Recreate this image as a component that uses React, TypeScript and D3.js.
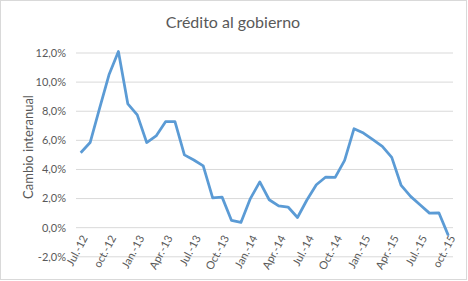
import React from "react";
import * as d3 from "d3";

const months = [
  "2012-07","2012-08","2012-09","2012-10","2012-11","2012-12",
  "2013-01","2013-02","2013-03","2013-04","2013-05","2013-06",
  "2013-07","2013-08","2013-09","2013-10","2013-11","2013-12",
  "2014-01","2014-02","2014-03","2014-04","2014-05","2014-06",
  "2014-07","2014-08","2014-09","2014-10","2014-11","2014-12",
  "2015-01","2015-02","2015-03","2015-04","2015-05","2015-06",
  "2015-07","2015-08","2015-09","2015-10",
];

const values = [
  5.15, 5.85, 8.2, 10.5, 12.1, 8.5,
  7.75, 5.85, 6.3, 7.28, 7.28, 5.0,
  4.65, 4.25, 2.05, 2.1, 0.5, 0.36,
  2.0, 3.15, 1.92, 1.5, 1.42, 0.7,
  1.9, 2.95, 3.48, 3.46, 4.62, 6.8,
  6.5, 6.05, 5.59, 4.83, 2.9, 2.15,
  1.58, 1.0, 1.02, -0.53,
];

const tickLabels: Record<string, string> = {
  "2012-07": "Jul.-12", "2012-10": "oct.-12",
  "2013-01": "Jan.-13", "2013-04": "Apr.-13", "2013-07": "Jul.-13", "2013-10": "Oct.-13",
  "2014-01": "Jan.-14", "2014-04": "Apr.-14", "2014-07": "Jul.-14", "2014-10": "Oct.-14",
  "2015-01": "Jan.-15", "2015-04": "Apr.-15", "2015-07": "Jul.-15", "2015-10": "oct.-15",
};

const yTicks = [-2, 0, 2, 4, 6, 8, 10, 12];

const W = 468, H = 281;
const FONT = "Lato, 'Open Sans', sans-serif";
const GRAY = "#595959";

export default function App() {
  const x = d3.scaleBand<string>().domain(months).range([76, 453]);
  const y = d3.scaleLinear().domain([-2, 12]).range([256.8, 53]);
  const line = d3.line<number>()
    .x((_, i) => (x(months[i]) as number) + x.bandwidth() / 2)
    .y((d) => y(d));
  const fmt = (v: number) => v.toFixed(1).replace(".", ",") + "%";

  return (
    <svg width={W} height={H} style={{ position: "absolute", left: 0, top: 0, background: "#fff" }}>
      <rect x={0.5} y={0.5} width={466} height={279} fill="#fff" stroke="#d9d9d9" />
      <text x={233} y={28} textAnchor="middle" fontFamily={FONT} fontSize={16} fill={GRAY}>
        Crédito al gobierno
      </text>
      {yTicks.map((t) => (
        <g key={t}>
          <line x1={76} x2={453} y1={y(t)} y2={y(t)} stroke="#d9d9d9" strokeWidth={1} />
          <text x={66} y={y(t)} dy="0.35em" textAnchor="end" fontFamily={FONT} fontSize={11} fill={GRAY}>
            {fmt(t)}
          </text>
        </g>
      ))}
      <text
        transform={`translate(28,147) rotate(-90)`}
        textAnchor="middle"
        dy="0.35em"
        fontFamily={FONT}
        fontSize={13}
        fill={GRAY}
      >
        Cambio interanual
      </text>
      {months.filter((m) => tickLabels[m]).map((m) => {
        const cx = (x(m) as number) + x.bandwidth() / 2;
        return (
          <text
            key={m}
            transform={`translate(${cx + 4},236) rotate(-62)`}
            textAnchor="end"
            dy="0.35em"
            fontFamily={FONT}
            fontSize={11}
            fill={GRAY}
          >
            {tickLabels[m]}
          </text>
        );
      })}
      <path d={line(values) as string} fill="none" stroke="#5B9BD5" strokeWidth={2.75} strokeLinejoin="round" />
    </svg>
  );
}
